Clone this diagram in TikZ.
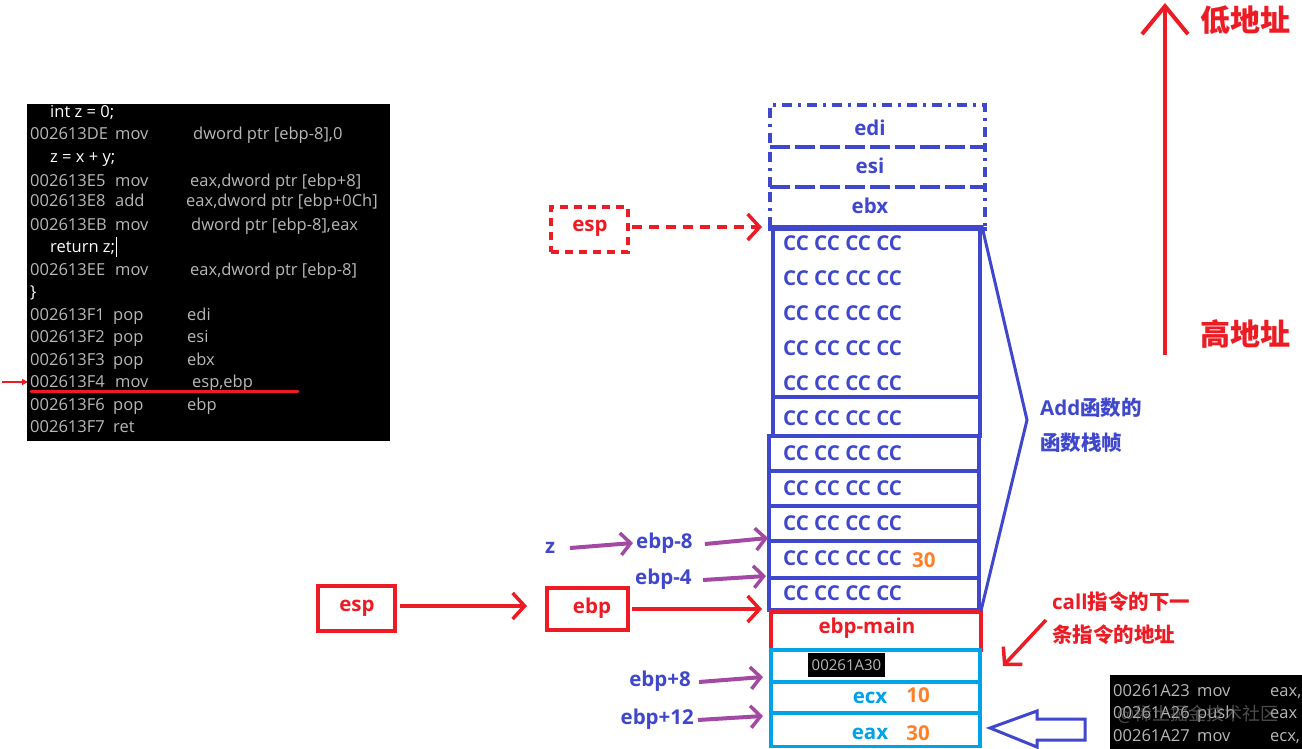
\documentclass[tikz,border=0pt]{standalone}
\usepackage{fontspec}
\setmainfont{Open Sans}
\newfontfamily\cjk{Noto Sans CJK SC}
\usetikzlibrary{arrows.meta}
\definecolor{pblue}{HTML}{3F48CC}
\definecolor{pred}{HTML}{ED1C24}
\definecolor{pcyan}{HTML}{00A2E8}
\definecolor{porange}{HTML}{FF7F27}
\definecolor{ppurple}{HTML}{A349A4}
\definecolor{cgray}{HTML}{B8B8B8}
\tikzset{
  lbl/.style={font=\bfseries\fontsize{20.5}{23}\selectfont, inner sep=0pt, anchor=base},
  big/.style={font=\cjk\bfseries\fontsize{30}{32}\selectfont, inner sep=0pt, text=pred, anchor=base west},
  code/.style={font=\fontsize{16.5}{19}\selectfont, text=cgray, inner sep=0pt, anchor=base west},
  src/.style={code, text=white},
  cc/.style={lbl, text=pblue, anchor=base west},
  bluerow/.style={draw=pblue, line width=3.5pt, inner sep=0pt},
  dashrow/.style={draw=pblue, line width=3.5pt, inner sep=0pt, dash pattern=on 10pt off 6pt on 3pt off 6pt},
  redrow/.style={draw=pred, line width=3.5pt, inner sep=0pt},
  cyanrow/.style={draw=pcyan, line width=3.5pt, inner sep=0pt},
  redbox/.style={draw=pred, line width=4pt, inner sep=0pt},
  rarrow/.style={draw=pred, line width=3.5pt, -{Straight Barb[length=12pt,width=26pt,line width=3.5pt]}},
  parrow/.style={draw=ppurple, line width=4pt, -{Straight Barb[length=10pt,width=22pt,line width=3.5pt]}},
}
\begin{document}
\begin{tikzpicture}[x=1pt,y=-1pt]
\useasboundingbox (0,0) rectangle (1302,749);
\fill[white] (0,0) rectangle (1302,749);

% ---------------- code listing ----------------
\fill[black] (27,104) rectangle (390,441);
\node[src] (s1) at (50,118) {int z = 0;};
\node[code] (a1) at (30,140) {002613DE}; \node[code] (m1) at (115,140) {mov}; \node[code] (o1) at (193,140) {dword ptr [ebp-8],0};
\node[src] (s2) at (50,163) {z = x + y;};
\node[code] (a2) at (30,186) {002613E5}; \node[code] (m2) at (115,186) {mov}; \node[code] (o2) at (190,186) {eax,dword ptr [ebp+8]};
\node[code] (a3) at (30,207) {002613E8}; \node[code] (m3) at (115,207) {add}; \node[code] (o3) at (186,207) {eax,dword ptr [ebp+0Ch]};
\node[code] (a4) at (30,230) {002613EB}; \node[code] (m4) at (115,230) {mov}; \node[code] (o4) at (191,230) {dword ptr [ebp-8],eax};
\node[src] (s3) at (50,252) {return z;};
\draw[white, line width=0.8pt] (116,237) -- (116,257);
\node[code] (a5) at (30,275) {002613EE}; \node[code] (m5) at (115,275) {mov}; \node[code] (o5) at (190,275) {eax,dword ptr [ebp-8]};
\node[src] (s4) at (30,297) {\}};
\node[code] (a6) at (30,320) {002613F1}; \node[code] (m6) at (113,320) {pop}; \node[code] (o6) at (187,320) {edi};
\node[code] (a7) at (30,342) {002613F2}; \node[code] (m7) at (113,342) {pop}; \node[code] (o7) at (187,342) {esi};
\node[code] (a8) at (30,365) {002613F3}; \node[code] (m8) at (113,365) {pop}; \node[code] (o8) at (187,365) {ebx};
\node[code] (a9) at (30,387) {002613F4}; \node[code] (m9) at (115,387) {mov}; \node[code] (o9) at (192,387) {esp,ebp};
\node[code] (a10) at (30,410) {002613F6}; \node[code] (m10) at (113,410) {pop}; \node[code] (o10) at (187,410) {ebp};
\node[code] (a11) at (30,432) {002613F7}; \node[code] (m11) at (113,432) {ret};
\draw[pred, line width=3pt, line cap=round] (31,391) -- (298,391);
\coordinate (cur0) at (2,382);
\coordinate (cur1) at (28,382);
\draw[pred, line width=1.2pt, -{Triangle[length=6pt,width=6pt]}] (cur0) -- (cur1);

% ---------------- stack ----------------
\node[dashrow, minimum width=215pt, minimum height=42pt] (edi) at (877.5,126) {};
\node[dashrow, minimum width=215pt, minimum height=40pt] (esi) at (877.5,167) {};
\node[dashrow, minimum width=215pt, minimum height=40pt] (ebx) at (877.5,207) {};
\node[lbl, text=pblue] (tedi) at (870,136) {edi};
\node[lbl, text=pblue] (tesi) at (870,174) {esi};
\node[lbl, text=pblue] (tebx) at (870,214) {ebx};
\draw[pblue, line width=4pt] (ebx.south west) -- (ebx.south east);

\node[bluerow, minimum width=207pt, minimum height=170pt] (r0) at (876.5,312) {};
\node[bluerow, minimum width=207pt, minimum height=39pt] (r1) at (876.5,416.5) {};
\node[bluerow, minimum width=210pt, minimum height=35pt] (r2) at (874,453.5) {};
\node[bluerow, minimum width=210pt, minimum height=35pt] (r3) at (874,488.5) {};
\node[bluerow, minimum width=210pt, minimum height=35pt] (r4) at (874,523.5) {};
\node[bluerow, minimum width=210pt, minimum height=37pt] (r5) at (874,559.5) {};
\node[bluerow, minimum width=210pt, minimum height=32pt] (r6) at (874,594) {};
\foreach \yy [count=\k] in {250,285,320,355,390,425,460,495,530,565,600}
  \node[cc] (cc\k) at (783,\yy) {CC CC CC CC};
\node[lbl, text=porange, anchor=base west] (v30a) at (912,567) {30};

\node[redrow, minimum width=210pt, minimum height=38pt] (main) at (876,631) {};
\node[lbl, text=pred] (tmain) at (867,633) {ebp-main};

\node[cyanrow, minimum width=209pt, minimum height=32pt] (ret) at (875.5,666) {};
\node[cyanrow, minimum width=209pt, minimum height=31pt] (cx) at (875.5,697.5) {};
\node[cyanrow, minimum width=209pt, minimum height=33pt] (ax) at (875.5,730) {};
\node[fill=black, text=cgray, font=\fontsize{15}{17}\selectfont, inner sep=0pt, minimum width=77pt, minimum height=24pt] (addr) at (846.5,665) {00261A30};
\node[lbl, text=pcyan] (tecx) at (870,703) {ecx};
\node[lbl, text=porange] (v10) at (918,702) {10};
\node[lbl, text=pcyan] (teax) at (870,739) {eax};
\node[lbl, text=porange] (v30b) at (918,740) {30};

% brace
\coordinate (brtip) at (1027,420);
\draw[pblue, line width=3pt, line join=miter] (r0.north east) -- (brtip) -- (r6.south east);
\node[lbl, text=pblue, anchor=base west] (add1) at (1040,415) {Add{\cjk 函数的}};
\node[lbl, text=pblue, anchor=base west] (add2) at (1040,450) {\cjk 函数栈帧};

% address direction
\coordinate (hi) at (1165,355);
\coordinate (lo) at (1165,3);
\draw[pred, line width=4pt, -{Straight Barb[length=28pt,width=46pt,line width=4pt]}] (hi) -- (lo);
\node[big] (low) at (1200,32) {低地址};
\node[big] (high) at (1200,345) {高地址};

% esp (dashed)
\node[redbox, dash pattern=on 8pt off 6pt, minimum width=77pt, minimum height=45pt] (esp1) at (589.5,229.5) {};
\node[lbl, text=pred] (tesp1) at (590,231) {esp};
\coordinate (esps) at (632,227);
\coordinate (espt) at (762,227);
\draw[rarrow, dash pattern=on 10pt off 7pt] (esps) -- (espt);

% esp -> ebp -> stack
\node[redbox, minimum width=77pt, minimum height=45pt] (esp2) at (356.5,608.5) {};
\node[lbl, text=pred] (tesp2) at (357,611) {esp};
\node[redbox, minimum width=81pt, minimum height=42pt] (ebp) at (587.5,609) {};
\node[lbl, text=pred] (tebp) at (592,613) {ebp};
\coordinate (esp2s) at (400,606);
\coordinate (esp2t) at (527,606);
\draw[rarrow] (esp2s) -- (esp2t);
\coordinate (ebps) at (632,609);
\coordinate (ebpt) at (762,609);
\draw[rarrow] (ebps) -- (ebpt);

% purple offsets
\node[lbl, text=pblue] (z) at (550,553) {z};
\node[lbl, text=pblue, anchor=base west] (em8) at (636,548) {ebp-8};
\node[lbl, text=pblue, anchor=base west] (em4) at (635,584) {ebp-4};
\node[lbl, text=pblue, anchor=base east] (ep8) at (691,686) {ebp+8};
\node[lbl, text=pblue, anchor=base east] (ep12) at (694,724) {ebp+12};
\coordinate (zs) at (570,548);
\coordinate (zt) at (633,543);
\coordinate (m8s) at (705,544);
\coordinate (t8) at (768,538);
\coordinate (m4s) at (703,580);
\coordinate (t4) at (766,576);
\coordinate (p8s) at (699,682);
\coordinate (tp8) at (763,677);
\coordinate (p12s) at (698,720);
\coordinate (tp12) at (763,716);
\draw[parrow] (zs) -- (zt);
\draw[parrow] (m8s) -- (t8);
\draw[parrow] (m4s) -- (t4);
\draw[parrow] (p8s) -- (tp8);
\draw[parrow] (p12s) -- (tp12);

% call note
\node[lbl, text=pred, anchor=base west] (call1) at (1052,609) {call{\cjk 指令的下一}};
\node[lbl, text=pred, anchor=base west] (call2) at (1052,642) {\cjk 条指令的地址};
\coordinate (cs) at (1046,620);
\coordinate (ce) at (1003,666);
\draw[pred, line width=3.5pt, -{Straight Barb[length=12pt,width=26pt,line width=3.5pt]}] (cs) -- (ce);

% hollow block arrow
\draw[pblue, line width=3pt, line join=miter] (990,728) -- (1037,711) -- (1037,719) -- (1085,719) -- (1085,740) -- (1037,740) -- (1037,747) -- cycle;

% caller listing
\fill[black] (1110,675) rectangle (1302,749);
\node[code] (b1) at (1113,696) {00261A23}; \node[code] (bm1) at (1197,696) {mov}; \node[code] (bo1) at (1270,696) {eax,};
\node[code] (b2) at (1113,718) {00261A26}; \node[code] (bm2) at (1197,718) {push}; \node[code] (bo2) at (1270,718) {eax};
\node[code] (b3) at (1113,741) {00261A27}; \node[code] (bm3) at (1197,741) {mov}; \node[code] (bo3) at (1270,741) {ecx,};
\node[text=gray, opacity=0.6, font=\cjk\fontsize{18}{20}\selectfont, inner sep=0pt, anchor=base west] (wm) at (1117,720) {@稀土掘金技术社区};
\end{tikzpicture}
\end{document}
